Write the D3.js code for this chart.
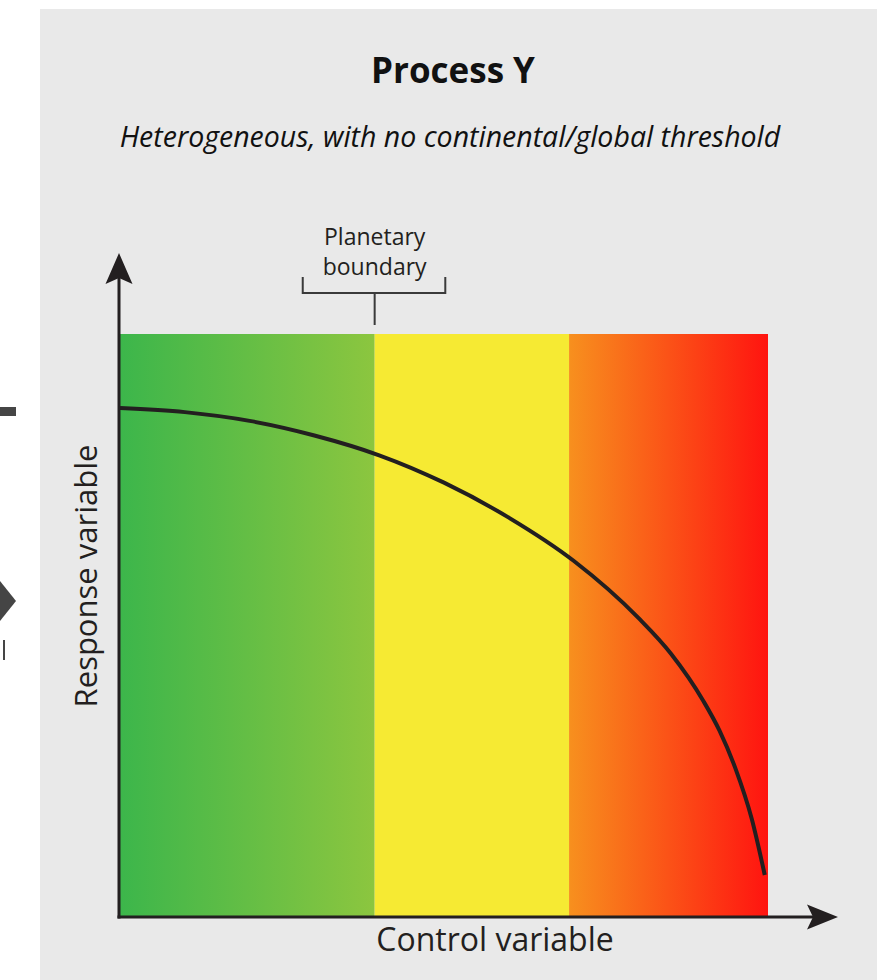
<!DOCTYPE html>
<html>
<head>
<meta charset="utf-8">
<script src="https://cdn.jsdelivr.net/npm/d3@7"></script>
<style>
  body { margin: 0; background: #fff; }
  svg { display: block; font-family: "Open Sans", "DejaVu Sans", sans-serif; }
</style>
</head>
<body>
<svg width="884" height="980"></svg>
<script>
// control variable (0-100) vs response variable (0-100)
var curveX = [0, 10, 20, 30, 40, 50, 60, 70, 80, 85, 90, 92.5, 95, 97.5, 99.5];
var curveY = [87.3, 86.6, 85.1, 82.6, 79.2, 74.5, 68.5, 61.1, 51.3, 45.2, 37.1, 32.0, 25.4, 16.8, 7.2];

// zones along the control variable
var zoneNames = ['safe', 'uncertain', 'high risk'];
var zoneStart = [0, 39.3, 69.3];
var zoneEnd = [39.3, 69.3, 100];
var zoneColors = [['#3cb64b', '#8cc63f'], ['#f6ea33', '#f6ea33'], ['#f7901e', '#ff1410']];

var boundary = 39.3;
var boundaryRange = [28.2, 50.2];

var title = 'Process Y';
var subtitle = 'Heterogeneous, with no continental/global threshold';
var boundaryLabel = ['Planetary', 'boundary'];
var xLabel = 'Control variable';
var yLabel = 'Response variable';

var svg = d3.select('svg');

var x = d3.scaleLinear().domain([0, 100]).range([120, 768]),
    y = d3.scaleLinear().domain([0, 100]).range([917, 334]);

// panel background, with a white strip on the left where the neighbour panel is cut off
svg.append('rect')
  .attr('x', 40).attr('y', 9)
  .attr('width', 837).attr('height', 971)
  .attr('fill', '#e9e9e9');

// bits of the neighbouring figure at the left edge
svg.append('rect').attr('x', 0).attr('y', 407).attr('width', 16).attr('height', 9).attr('fill', '#454545');
svg.append('path').attr('d', 'M0,581 L16,601 L0,621 Z').attr('fill', '#454545');
svg.append('rect').attr('x', 3).attr('y', 640).attr('width', 2).attr('height', 20).attr('fill', '#454545');

var defs = svg.append('defs');
zoneNames.forEach(function(n, i) {
  var g = defs.append('linearGradient')
    .attr('id', 'zone' + i)
    .attr('x1', '0%').attr('x2', '100%').attr('y1', '0%').attr('y2', '0%');
  g.append('stop').attr('offset', '0%').attr('stop-color', zoneColors[i][0]);
  g.append('stop').attr('offset', '100%').attr('stop-color', zoneColors[i][1]);
});

svg.append('g').selectAll('rect')
  .data(zoneNames).enter()
  .append('rect')
  .attr('x', function(d, i) { return x(zoneStart[i]); })
  .attr('y', y(100))
  .attr('width', function(d, i) { return x(zoneEnd[i]) - x(zoneStart[i]); })
  .attr('height', y(0) - y(100))
  .attr('fill', function(d, i) { return 'url(#zone' + i + ')'; });

// response curve
var line = d3.line()
  .x(function(d) { return x(d[0]); })
  .y(function(d) { return y(d[1]); })
  .curve(d3.curveMonotoneX);

svg.append('path')
  .datum(curveX.map(function(v, i) { return [v, curveY[i]]; }))
  .attr('d', line)
  .attr('fill', 'none')
  .attr('stroke', '#231f20')
  .attr('stroke-width', 4);

// axes with arrow heads
var ax = x(0) - 1, ay = y(0);
svg.append('line')
  .attr('x1', ax).attr('y1', ay + 1.5).attr('x2', ax).attr('y2', 270)
  .attr('stroke', '#231f20').attr('stroke-width', 3);
svg.append('line')
  .attr('x1', ax - 1.5).attr('y1', ay).attr('x2', 825).attr('y2', ay)
  .attr('stroke', '#231f20').attr('stroke-width', 3);
svg.append('path')
  .attr('d', 'M' + ax + ',253 L' + (ax + 13.5) + ',284 L' + ax + ',278 L' + (ax - 13.5) + ',284 Z')
  .attr('fill', '#231f20');
svg.append('path')
  .attr('d', 'M838,' + ay + ' L807,' + (ay - 12.5) + ' L813,' + ay + ' L807,' + (ay + 12.5) + ' Z')
  .attr('fill', '#231f20');

// planetary boundary bracket
var bx0 = x(boundaryRange[0]), bx1 = x(boundaryRange[1]), bx = x(boundary);
svg.append('path')
  .attr('d', 'M' + bx0 + ',277 V293 H' + bx1 + ' V277 M' + bx + ',293 V325')
  .attr('fill', 'none')
  .attr('stroke', '#3a3a3a')
  .attr('stroke-width', 2);

svg.append('g').selectAll('text')
  .data(boundaryLabel).enter()
  .append('text')
  .attr('x', bx)
  .attr('y', function(d, i) { return 245 + i * 30; })
  .attr('text-anchor', 'middle')
  .style('font-size', '23px')
  .attr('fill', '#231f20')
  .text(function(d) { return d; });

// titles
svg.append('text')
  .attr('x', 453).attr('y', 83)
  .attr('text-anchor', 'middle')
  .style('font-size', '35px')
  .style('font-weight', 'bold')
  .attr('fill', '#111')
  .text(title);

svg.append('text')
  .attr('x', 450).attr('y', 147)
  .attr('text-anchor', 'middle')
  .style('font-size', '28.5px')
  .style('font-style', 'italic')
  .attr('fill', '#111')
  .text(subtitle);

svg.append('text')
  .attr('x', 495).attr('y', 951)
  .attr('text-anchor', 'middle')
  .style('font-size', '32px')
  .attr('fill', '#231f20')
  .text(xLabel);

svg.append('text')
  .attr('text-anchor', 'middle')
  .attr('transform', 'translate(97, 576)rotate(-90)')
  .style('font-size', '31px')
  .attr('fill', '#231f20')
  .text(yLabel);
</script>
</body>
</html>
